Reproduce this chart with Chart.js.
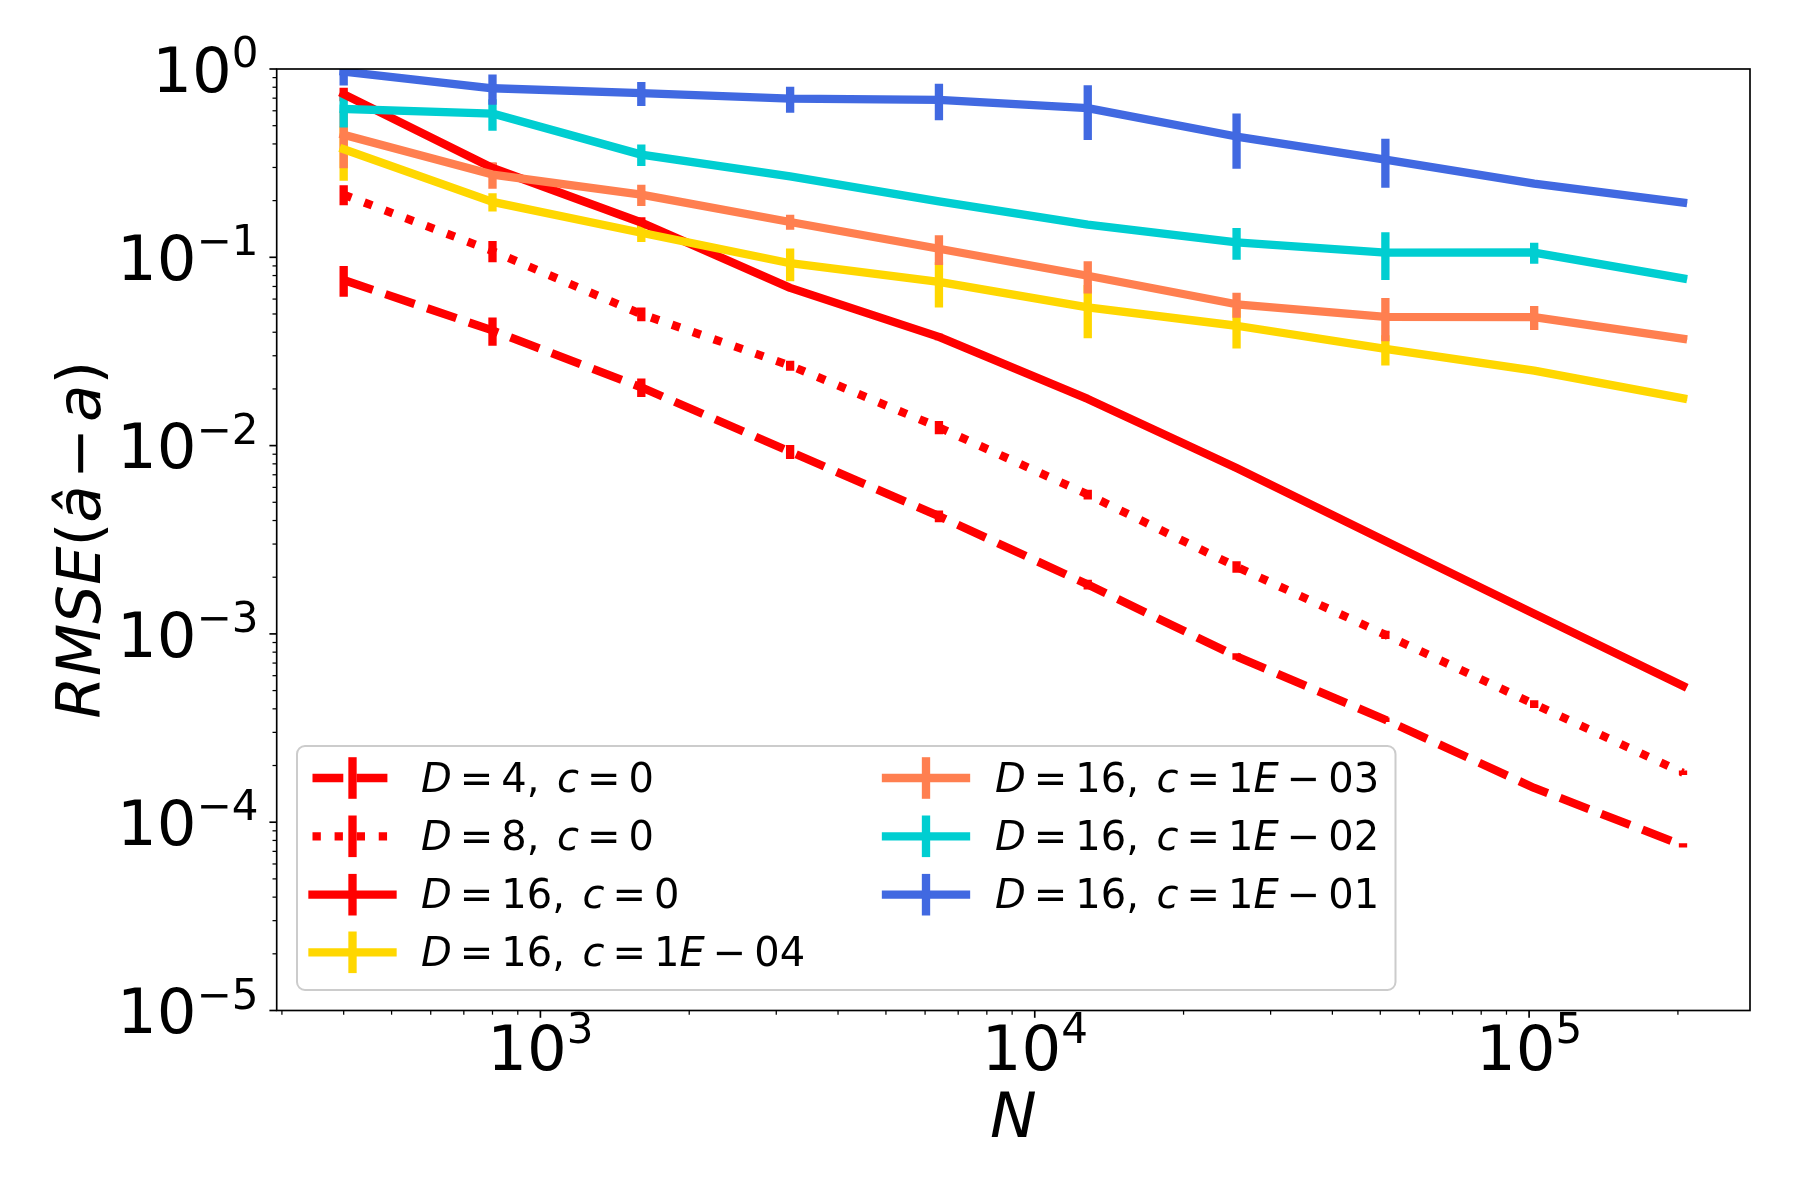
<!DOCTYPE html>
<html>
<head>
<meta charset="utf-8">
<script src="https://cdn.jsdelivr.net/npm/chart.js@4.4.1/dist/chart.umd.min.js"></script>
<style>
    html, body { margin: 0; padding: 0; background: #fff; }
    #wrap { width: 1800px; height: 1200px; }
</style>
</head>
<body>
<div id="wrap"><canvas id="rmseChart" width="1800" height="1200"></canvas></div>
<script>
const sampleSizes = [400, 800, 1600, 3200, 6400, 12800, 25600, 51200, 102400, 204800];

const seriesLabels = ['D=4, c=0', 'D=8, c=0', 'D=16, c=0', 'D=16, c=1E\u221204',
                      'D=16, c=1E\u221203', 'D=16, c=1E\u221202', 'D=16, c=1E\u221201'];
const seriesColors = ['#ff0000', '#ff0000', '#ff0000', '#ffd700', '#ff7f50', '#00ced1', '#4169e1'];

const rmseD4 = [0.0758, 0.0409, 0.0204, 0.00928, 0.00422, 0.00183, 0.000759, 0.00035, 0.000152, 0.0000753];
const errD4 = [0.014, 0.007, 0.0023, 0.0008, 0.0003, 0.00011, 0.00003, 0.00001, 0.000004, 0.000002];
const rmseD8 = [0.215, 0.108, 0.0499, 0.0266, 0.0125, 0.0055, 0.00227, 0.00099, 0.000424, 0.000183];
const errD8 = [0.026, 0.014, 0.0042, 0.0016, 0.001, 0.00033, 0.00016, 0.00005, 0.00002, 0.000005];
const rmseD16 = [0.735, 0.298, 0.153, 0.0688, 0.0378, 0.0177, 0.0076, 0.00311, 0.00128, 0.00053];
const errD16 = [0.06, 0.02, 0.01, 0.002, 0.0015, 0.0005, 0.0002, 0.00005, 0.00002, 0.000005];
const rmseC1e4 = [0.375, 0.197, 0.135, 0.093, 0.0741, 0.0542, 0.0433, 0.0326, 0.025, 0.0178];
const errC1e4 = [0.12, 0.022, 0.0145, 0.0185, 0.02, 0.017, 0.0105, 0.006, 0.001, 0.0005];
const rmseC1e3 = [0.447, 0.275, 0.215, 0.154, 0.111, 0.0798, 0.0563, 0.0483, 0.0481, 0.0369];
const errC1e3 = [0.15, 0.044, 0.028, 0.014, 0.02, 0.0155, 0.0085, 0.0125, 0.007, 0.0005];
const rmseC1e2 = [0.614, 0.58, 0.351, 0.269, 0.198, 0.149, 0.12, 0.1058, 0.106, 0.0773];
const errC1e2 = [0.125, 0.11, 0.046, 0.003, 0.003, 0.005, 0.023, 0.03, 0.0135, 0.001];
const rmseC1e1 = [0.968, 0.79, 0.744, 0.696, 0.685, 0.62, 0.438, 0.33, 0.246, 0.195];
const errC1e1 = [0.15, 0.145, 0.108, 0.11, 0.15, 0.2, 0.143, 0.096, 0.003, 0.002];

const xTickExponents = [3, 4, 5];
const yTickExponents = [0, -1, -2, -3, -4, -5];
const xAxisLabel = 'N';
const yAxisLabel = 'RMSE(\u00e2\u2212a)';

const FONT = '"DejaVu Sans", sans-serif';
const LW = 8.33;
const dashPatterns = [[30.8, 13.3], [8.33, 13.75], [], [], [], [], []];

const seriesList = [
    { rmse: rmseD4, err: errD4 },
    { rmse: rmseD8, err: errD8 },
    { rmse: rmseD16, err: errD16 },
    { rmse: rmseC1e4, err: errC1e4 },
    { rmse: rmseC1e3, err: errC1e3 },
    { rmse: rmseC1e2, err: errC1e2 },
    { rmse: rmseC1e1, err: errC1e1 }
].map((s, i) => ({ ...s, label: seriesLabels[i], color: seriesColors[i], dash: dashPatterns[i] }));

// mathtext-like text: letters italic, gaps around = and minus
const mathTokens = (text, relGap) => {
    const out = [];
    for (const ch of text) {
        if (ch === ' ') { out.push({ gap: 0.44 }); continue; }
        const rel = ch === '=' || ch === '\u2212';
        if (rel) out.push({ gap: relGap });
        out.push({ ch, italic: /\p{L}/u.test(ch) });
        if (rel) out.push({ gap: relGap });
    }
    return out;
};

const drawMath = (ctx, text, x, y, size, measureOnly, relGap = 0.2) => {
    let cx = x;
    for (const t of mathTokens(text, relGap)) {
        if (t.gap) { cx += t.gap * size; continue; }
        ctx.font = `${t.italic ? 'italic ' : ''}${size}px ${FONT}`;
        if (!measureOnly) ctx.fillText(t.ch, cx, y);
        cx += ctx.measureText(t.ch).width;
    }
    return cx - x;
};

const expText = (e) => (e < 0 ? '\u2212' + Math.abs(e) : String(e));

const drawPower = (ctx, exp, left, baseY, supY) => {
    ctx.font = `62.5px ${FONT}`;
    ctx.fillText('10', left, baseY);
    const wb = ctx.measureText('10').width;
    ctx.font = `42px ${FONT}`;
    ctx.fillText(expText(exp), left + wb, supY);
};

const powerWidth = (ctx, exp) => {
    ctx.font = `62.5px ${FONT}`;
    const wb = ctx.measureText('10').width;
    ctx.font = `42px ${FONT}`;
    return wb + ctx.measureText(expText(exp)).width;
};

const errorBarPlugin = {
    id: 'errorBars',
    beforeDatasetsDraw(chart) {
        const { ctx, chartArea: a, scales: { x, y } } = chart;
        ctx.save();
        ctx.beginPath();
        ctx.rect(a.left, a.top, a.right - a.left, a.bottom - a.top);
        ctx.clip();
        ctx.lineWidth = LW;
        ctx.lineCap = 'butt';
        ctx.setLineDash([]);
        seriesList.forEach(s => {
            ctx.strokeStyle = s.color;
            ctx.beginPath();
            sampleSizes.forEach((n, i) => {
                const e = s.err[i];
                if (!e) return;
                const px = x.getPixelForValue(n);
                ctx.moveTo(px, y.getPixelForValue(s.rmse[i] + e));
                ctx.lineTo(px, y.getPixelForValue(Math.max(s.rmse[i] - e, 1e-9)));
            });
            ctx.stroke();
        });
        ctx.restore();
    }
};

const axesPlugin = {
    id: 'mplAxes',
    afterDatasetsDraw(chart) {
        const { ctx, chartArea: a, scales: { x, y } } = chart;
        ctx.save();
        ctx.setLineDash([]);
        ctx.strokeStyle = '#000';
        ctx.fillStyle = '#000';

        // frame
        ctx.lineWidth = 1.67;
        ctx.strokeRect(a.left, a.top, a.right - a.left, a.bottom - a.top);

        // ticks
        const tick = (x0, y0, x1, y1, w) => {
            ctx.lineWidth = w;
            ctx.beginPath();
            ctx.moveTo(x0, y0);
            ctx.lineTo(x1, y1);
            ctx.stroke();
        };
        yTickExponents.forEach(e => {
            const py = y.getPixelForValue(Math.pow(10, e));
            tick(a.left - 7.3, py, a.left, py, 1.67);
            if (e < 0) {
                for (let k = 2; k <= 9; k++) {
                    const my = y.getPixelForValue(k * Math.pow(10, e));
                    tick(a.left - 4.2, my, a.left, my, 1.25);
                }
            }
        });
        for (let e = 2; e <= 5; e++) {
            for (let k = 1; k <= 9; k++) {
                const v = k * Math.pow(10, e);
                if (v < x.min || v > x.max) continue;
                const px = x.getPixelForValue(v);
                if (k === 1) tick(px, a.bottom, px, a.bottom + 7.3, 1.67);
                else tick(px, a.bottom, px, a.bottom + 4.2, 1.25);
            }
        }

        // tick labels
        ctx.textAlign = 'left';
        ctx.textBaseline = 'alphabetic';
        xTickExponents.forEach(e => {
            const px = x.getPixelForValue(Math.pow(10, e));
            const w = powerWidth(ctx, e);
            drawPower(ctx, e, px - w / 2, a.bottom + 59.5, a.bottom + 32.8);
        });
        yTickExponents.forEach(e => {
            const py = y.getPixelForValue(Math.pow(10, e));
            const w = powerWidth(ctx, e);
            drawPower(ctx, e, a.left - 18.2 - w, py + 22.7, py - 2);
        });

        // axis labels
        const wx = drawMath(ctx, xAxisLabel, 0, 0, 62.5, true);
        drawMath(ctx, xAxisLabel, (a.left + a.right) / 2 - wx / 2, 1137, 62.5);
        ctx.save();
        ctx.translate(100, (a.top + a.bottom) / 2);
        ctx.rotate(-Math.PI / 2);
        const wy = drawMath(ctx, yAxisLabel, 0, 0, 61, true, 0.1);
        drawMath(ctx, yAxisLabel, -wy / 2, 0, 61, false, 0.1);
        ctx.restore();

        // legend
        const box = { x: 297, y: 746, w: 1098.5, h: 244 };
        ctx.beginPath();
        ctx.roundRect(box.x, box.y, box.w, box.h, 8);
        ctx.fillStyle = 'rgba(255,255,255,0.8)';
        ctx.fill();
        ctx.strokeStyle = '#cccccc';
        ctx.lineWidth = 2;
        ctx.stroke();

        const rowY = [778, 836.3, 894.7, 952.3];
        const handleX = [312.5, 886];
        const textX = [421, 995];
        seriesList.forEach((s, i) => {
            const col = i < 4 ? 0 : 1;
            const cy = rowY[i < 4 ? i : i - 4];
            const hx = handleX[col];
            ctx.strokeStyle = s.color;
            ctx.lineWidth = LW;
            ctx.setLineDash(s.dash);
            ctx.lineDashOffset = 0;
            ctx.lineCap = s.dash.length ? 'butt' : 'square';
            ctx.beginPath();
            ctx.moveTo(hx, cy);
            ctx.lineTo(hx + 80, cy);
            ctx.stroke();
            ctx.setLineDash([]);
            ctx.lineCap = 'butt';
            ctx.beginPath();
            ctx.moveTo(hx + 40, cy - 20.8);
            ctx.lineTo(hx + 40, cy + 20.8);
            ctx.stroke();
            ctx.fillStyle = '#000';
            drawMath(ctx, s.label, textX[col], cy + 13.5, 40);
        });
        ctx.restore();
    }
};

const buildChart = () => {
    const datasets = seriesList.map((s, i) => ({
        label: s.label,
        data: sampleSizes.map((n, j) => ({ x: n, y: s.rmse[j] })),
        borderColor: s.color,
        backgroundColor: s.color,
        borderWidth: LW,
        borderDash: s.dash,
        borderCapStyle: s.dash.length ? 'butt' : 'square',
        borderJoinStyle: 'round',
        pointRadius: 0,
        pointHoverRadius: 0,
        tension: 0,
        fill: false,
        order: seriesList.length - i
    }));

    const config = {
        type: 'line',
        data: { datasets: datasets },
        options: {
            responsive: false,
            animation: false,
            devicePixelRatio: 1,
            layout: { padding: { left: 276.7, top: 69, right: 50, bottom: 189.5 } },
            plugins: {
                legend: { display: false },
                tooltip: { enabled: false }
            },
            scales: {
                x: { type: 'logarithmic', min: 292.8, max: 279800, display: false },
                y: { type: 'logarithmic', min: 1e-5, max: 1, display: false }
            }
        },
        plugins: [errorBarPlugin, axesPlugin]
    };

    const ctx = document.getElementById('rmseChart').getContext('2d');
    new Chart(ctx, config);
};

document.addEventListener('DOMContentLoaded', () => {
    buildChart();
});
</script>
</body>
</html>
